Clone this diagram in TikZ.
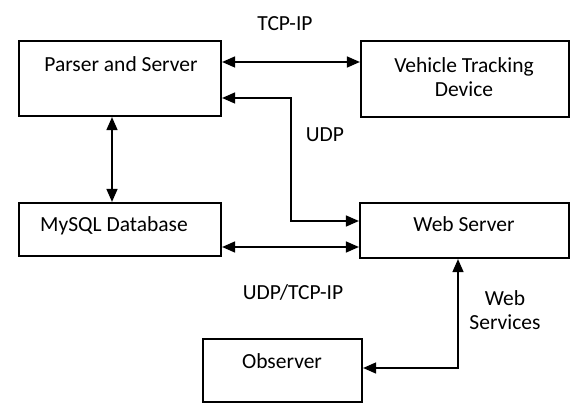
\documentclass[tikz,border=0pt]{standalone}
\usepackage{fontspec}
\setmainfont{Carlito}
\usetikzlibrary{arrows.meta}
\begin{document}
\begin{tikzpicture}[x=1pt,y=-1pt,
  box/.style={draw=black,line width=2.2pt,fill=white,inner sep=0pt},
  lbl/.style={inner sep=0pt,anchor=base,align=center,font=\fontsize{21.5}{24}\selectfont},
  conn/.style={line width=1.5pt,{Triangle[length=13pt,width=11pt]}-{Triangle[length=13pt,width=11pt]}}]
\useasboundingbox (0,0) rectangle (571,417);
% boxes
\node[box,minimum width=202pt,minimum height=75pt] (ps) at (120,78.5) {};
\node[box,minimum width=208pt,minimum height=76pt] (vt) at (465,79) {};
\node[box,minimum width=202pt,minimum height=53pt] (db) at (120,229.5) {};
\node[box,minimum width=209pt,minimum height=55pt] (ws) at (464.5,230.5) {};
\node[box,minimum width=159pt,minimum height=63pt] (ob) at (282.5,370.5) {};
% box texts
\node[lbl] (pst) at (121,72) {Parser and Server};
\node[lbl] (vtt) at (464,97) {Vehicle Tracking\\Device};
\node[lbl] (dbt) at (114,232) {MySQL Database};
\node[lbl] (wst) at (464,232) {Web Server};
\node[lbl] (obt) at (282,368) {Observer};
% connector labels
\node[lbl] (l1) at (285,31) {TCP-IP};
\node[lbl] (l2) at (325,142) {UDP};
\node[lbl] (l3) at (293,299) {UDP/TCP-IP};
\node[lbl] (l4) at (505,329) {Web\\Services};
% connectors
\draw[conn] (ps.east |- 0,62) -- (vt.west |- 0,62);
\coordinate (u1) at (291,98);
\coordinate (u2) at (291,221);
\draw[conn] (ps.east |- u1) -- (u1) -- (u2) -- (ws.west |- u2);
\draw[conn] (ps.south -| 112,0) -- (db.north -| 112,0);
\draw[conn] (db.east |- 0,247) -- (ws.west |- 0,247);
\coordinate (w1) at (458,368);
\draw[conn] (ws.south -| w1) -- (w1) -- (ob.east |- w1);
\end{tikzpicture}
\end{document}
